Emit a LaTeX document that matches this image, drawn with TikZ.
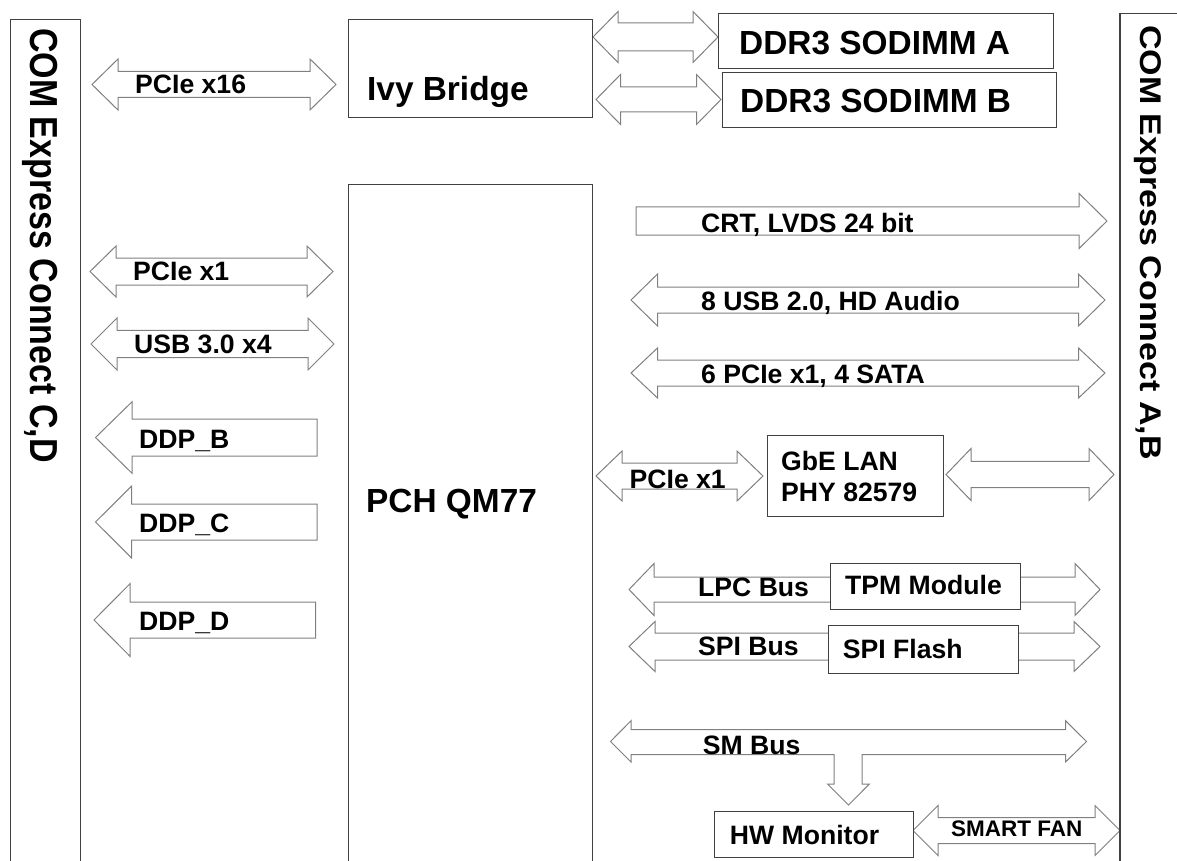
\documentclass[tikz,border=0pt]{standalone}
\usepackage{fontspec}
\setmainfont{Liberation Sans}
\definecolor{boxgray}{RGB}{64,64,64}
\definecolor{arrgray}{RGB}{128,128,128}
\newcommand\DArrow[6]{% x1 x2 yc s h L
  \draw[arrowline] (#1,#3) -- ++(#6,-#5) -- ++(0,#5-#4) -- (#2-#6,#3-#4) -- ++(0,#4-#5) -- (#2,#3)
    -- ++(-#6,#5) -- ++(0,#4-#5) -- (#1+#6,#3+#4) -- ++(0,#5-#4) -- cycle;}
\newcommand\LArrow[6]{% tip base right yc s h
  \draw[arrowline] (#1,#4) -- (#2,#4-#6) -- (#2,#4-#5) -- (#3,#4-#5) -- (#3,#4+#5) -- (#2,#4+#5) -- (#2,#4+#6) -- cycle;}
\newcommand\RArrow[6]{% left base tip yc s h
  \draw[arrowline] (#1,#4-#5) -- (#2,#4-#5) -- (#2,#4-#6) -- (#3,#4) -- (#2,#4+#6) -- (#2,#4+#5) -- (#1,#4+#5) -- cycle;}
\tikzset{
  box/.style={draw=boxgray, line width=1.3pt, fill=white, inner sep=0pt, anchor=north west},
  arrowline/.style={draw=arrgray, line width=1pt, fill=white, line join=miter},
  lbl/.style={anchor=base west, inner sep=0pt, font=\fontsize{26.6}{30}\selectfont\bfseries},
  big/.style={anchor=base west, inner sep=0pt, font=\fontsize{33.4}{38}\selectfont\bfseries},
  side/.style={anchor=base, inner sep=0pt, rotate=-90, font=\fontsize{34}{40}\selectfont\bfseries},
}
\begin{document}
\begin{tikzpicture}[x=1pt,y=-1pt]
\useasboundingbox (0,0) rectangle (1177,861);
\clip (0,0) rectangle (1177,861);
\fill[white] (0,0) rectangle (1177,861);

% connectors (block arrows)
\DArrow{92}{336}{84.5}{13}{25.5}{26}
\DArrow{593}{718}{37}{14}{25.5}{25}
\DArrow{596}{721}{99.5}{12.5}{25}{24.5}
\DArrow{90}{333}{271.5}{13.5}{25.5}{26}
\DArrow{91}{334}{344}{13.7}{26}{26}
\LArrow{95.5}{132}{317}{437.5}{18.5}{35.7}
\LArrow{95.5}{131.7}{317}{522}{18}{36}
\LArrow{94}{130}{315.7}{620}{18}{36.3}
\RArrow{636}{1079}{1107}{221}{14.2}{27.6}
\DArrow{631}{1105}{300}{13}{26}{26.5}
\DArrow{631}{1105}{373}{13}{25}{26.5}
\DArrow{596}{763}{476}{13}{25}{26}
\DArrow{946}{1114}{474.5}{13.2}{26}{25}
\DArrow{629}{1100}{589.5}{12.5}{26}{25}
\DArrow{629}{1100}{646.5}{13.5}{25}{26}
\DArrow{913}{1120}{830.5}{13}{25}{25}
% SM bus with branch to HW monitor
\draw[arrowline] (610.5,741.5) -- (631,720.7) -- (631,729.5) -- (1065.5,729.5) -- (1065.5,720.7)
  -- (1086.5,741.5) -- (1065.5,762) -- (1065.5,754.5) -- (862,754.5) -- (862,784) -- (869.4,784)
  -- (848.5,805) -- (827.5,784) -- (834,784) -- (834,754.5) -- (631,754.5) -- (631,762) -- cycle;

% boxes
\node[box, minimum width=70pt, minimum height=900pt] (cd) at (9.5,19) {};
\node[box, minimum width=100pt, minimum height=900pt] (ab) at (1119.3,12.7) {};
\node[box, minimum width=244pt, minimum height=98pt] (ivy) at (347.7,19) {};
\node[box, minimum width=244pt, minimum height=720pt] (pch) at (347.7,184) {};
\node[box, minimum width=335pt, minimum height=55pt] (ddra) at (718,12.7) {};
\node[box, minimum width=334pt, minimum height=55pt] (ddrb) at (722,72) {};
\node[box, minimum width=176pt, minimum height=80.7pt] (gbe) at (766.6,435) {};
\node[box, minimum width=190pt, minimum height=46.3pt] (tpm) at (830,562.7) {};
\node[box, minimum width=190.3pt, minimum height=47.7pt] (spif) at (827.7,625) {};
\node[box, minimum width=199pt, minimum height=46pt] (hwm) at (714,811) {};

% texts
\node[side] (tcd) at (30.5,245.5) {\scalebox{1}[1.15]{COM Express Connect C,D}};
\node[side] (tab) at (1140,242.5) {\scalebox{1}[0.88]{COM Express Connect A,B}};
\node[big] (tivy) at (367,100.5) {Ivy Bridge};
\node[big] (tpch) at (366,512) {PCH QM77};
\node[big] (tddra) at (739,55) {DDR3 SODIMM A};
\node[big] (tddrb) at (740,113) {DDR3 SODIMM B};

\node[lbl] (l1) at (135,94) {PCIe x16};
\node[lbl] (l2) at (133,280.5) {PCIe x1};
\node[lbl] (l3) at (134,353) {USB 3.0 x4};
\node[lbl] (l4) at (139,448) {DDP\_B};
\node[lbl] (l5) at (139,532.5) {DDP\_C};
\node[lbl] (l6) at (139,630) {DDP\_D};
\node[lbl] (l7) at (701,232.5) {CRT, LVDS 24 bit};
\node[lbl] (l8) at (701,310) {8 USB 2.0, HD Audio};
\node[lbl] (l9) at (701,383) {6 PCIe x1, 4 SATA};
\node[lbl] (l10) at (629.5,488) {PCIe x1};
\node[lbl] (l11) at (781,470) {GbE LAN};
\node[lbl] (l12) at (781,501.5) {PHY 82579};
\node[lbl] (l13) at (698,596.5) {LPC Bus};
\node[lbl] (l14) at (845,594) {TPM Module};
\node[lbl] (l15) at (698,655) {SPI Bus};
\node[lbl] (l16) at (842.7,658) {SPI Flash};
\node[lbl] (l17) at (702.6,754) {SM Bus};
\node[lbl] (l18) at (729.7,844) {HW Monitor};
\node[lbl, font=\fontsize{22.5}{26}\selectfont\bfseries] (l19) at (951,836.5) {SMART FAN};
\end{tikzpicture}
\end{document}
